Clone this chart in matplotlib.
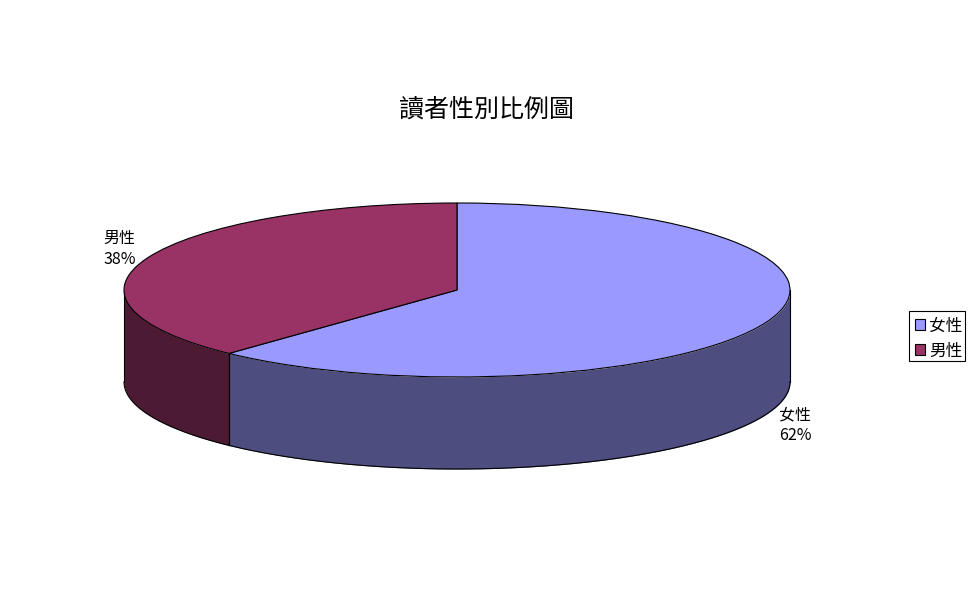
import numpy as np
from matplotlib import pyplot as plt
from matplotlib.patches import Rectangle

plt.rcParams['font.family'] = ['Noto Sans CJK TC', 'DejaVu Sans']

categories = ['女性', '男性']
values = [62, 38]
top_colors = ['#9999FF', '#993366']
side_colors = ['#4D4D80', '#4D1A33']
title = '讀者性別比例圖'

W, H = 975, 599
cx, cy = 457, 290   # pie centre in px
rx, ry = 333, 87
depth = 92 / ry     # wall height in pie units

fig = plt.figure(figsize=(W / 100, H / 100), dpi=100)
ax = fig.add_axes([0, 0, 1, 1])

total = sum(values)
edges = 90 - np.cumsum([0] + values) * 360 / total

# side walls, only the front part of each slice shows
for i in range(len(values)):
    a1, a2 = edges[i + 1], edges[i]
    lo = max(a1, -180)
    hi = min(a2, 0)
    if lo >= hi:
        continue
    t = np.radians(np.linspace(lo, hi, 200))
    ax.fill_between(np.cos(t), np.sin(t), np.sin(t) - depth, color=side_colors[i],
                    lw=0, zorder=1)
    ax.plot(np.cos(t), np.sin(t) - depth, color='black', lw=0.8, zorder=2)
    ax.plot([np.cos(t[0])] * 2, [np.sin(t[0]), np.sin(t[0]) - depth], color='black',
            lw=0.8, zorder=2)
    ax.plot([np.cos(t[-1])] * 2, [np.sin(t[-1]), np.sin(t[-1]) - depth], color='black',
            lw=0.8, zorder=2)

wedges, _ = ax.pie(values, colors=top_colors, startangle=90, counterclock=False,
                   wedgeprops={'edgecolor': 'black', 'linewidth': 0.8, 'zorder': 3})
ax.set_aspect('auto')
ax.set_xlim(-cx / rx, (W - cx) / rx)
ax.set_ylim(-(H - cy) / ry, cy / ry)
ax.axis('off')

fig.text(486.5 / W, 1 - 110 / H, title, fontsize=18, ha='center', va='center')

fig.text(779 / W, 1 - 425 / H, f'{categories[0]}\n{values[0]}%', fontsize=11.5,
         ha='left', va='center', linespacing=1.3, fontweight='light')
fig.text(103 / W, 1 - 249 / H, f'{categories[1]}\n{values[1]}%', fontsize=11.5,
         ha='left', va='center', linespacing=1.3, fontweight='light')

# legend drawn by hand to match the boxed look
fig.add_artist(Rectangle((908.5 / W, 1 - 360.5 / H), 56.5 / W, 50 / H, transform=fig.transFigure,
                         fc='white', ec='black', lw=0.8))
for i, name in enumerate(categories):
    y = 324.5 + i * 25
    fig.add_artist(Rectangle((914.5 / W, 1 - (y + 5) / H), 10.5 / W, 10.5 / H,
                             transform=fig.transFigure, fc=top_colors[i], ec='black', lw=0.8))
    fig.text(929 / W, 1 - (y + 1.5) / H, name, fontsize=12, ha='left', va='center',
             fontweight='light')

fig.savefig('out.png', dpi=100)
